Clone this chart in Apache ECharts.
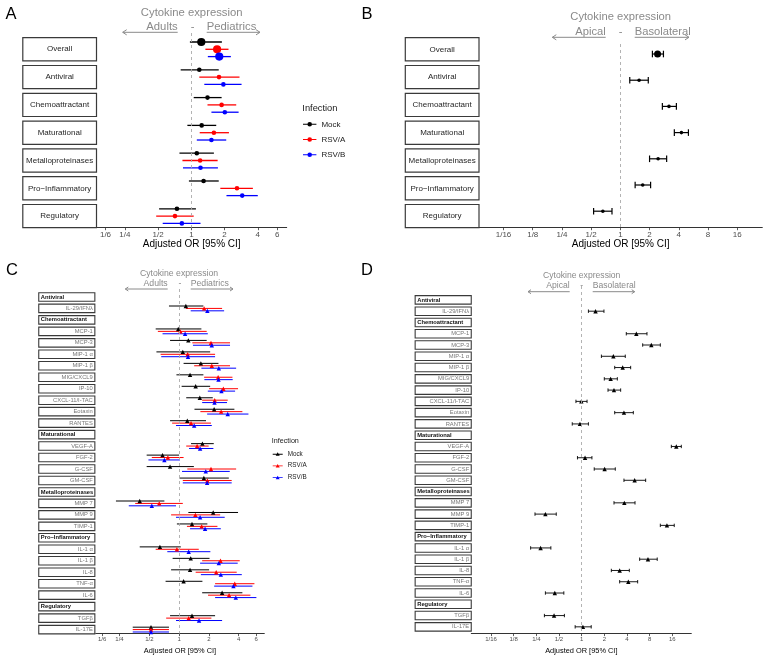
<!DOCTYPE html>
<html><head><meta charset="utf-8">
<script src="https://cdn.jsdelivr.net/npm/echarts@6/dist/echarts.min.js"></script>
<style>html,body{margin:0;padding:0;background:#fff}#c{width:768px;height:659px}</style>
</head><body><div id="c"></div>
<script>
// ---------- DATA ----------
const groupsAB = ['Overall','Antiviral','Chemoattractant','Maturational','Metalloproteinases','Pro\u2212Inflammatory','Regulatory'];
const ticksAC = ['1/6','1/4','1/2','1','2','4','6'];
const ticksBD = ['1/16','1/8','1/4','1/2','1','2','4','8','16'];

// Panel A (Adults vs Pediatrics), OR and 95% CI
const mockA_or = [1.23,1.18,1.40,1.24,1.12,1.29,0.74];
const mockA_lo = [0.97,0.80,1.05,0.92,0.78,0.95,0.51];
const mockA_hi = [1.89,1.77,1.88,1.68,1.60,1.77,1.10];
const rsvaA_or = [1.71,1.78,1.88,1.60,1.20,2.59,0.71];
const rsvaA_lo = [1.34,1.18,1.40,1.19,0.83,1.83,0.48];
const rsvaA_hi = [2.17,2.73,2.55,2.19,1.73,3.61,1.05];
const rsvbA_or = [1.79,1.95,2.01,1.52,1.21,2.89,0.82];
const rsvbA_lo = [1.41,1.31,1.52,1.12,0.84,2.08,0.55];
const rsvbA_hi = [2.28,2.85,2.68,2.07,1.74,4.00,1.21];

// Panel B (Apical vs Basolateral)
const basoB_or = [2.42,1.56,3.17,4.26,2.45,1.70,0.66];
const basoB_lo = [2.14,1.25,2.71,3.60,2.00,1.42,0.53];
const basoB_hi = [2.78,1.94,3.78,5.03,3.00,2.05,0.82];

// Panels C / D rows
const rowsCD = ['Antiviral','IL-29/IFN\u03bb','Chemoattractant','MCP-1','MCP-3','MIP-1 \u03b1','MIP-1 \u03b2','MIG/CXCL9','IP-10','CXCL-11/I-TAC','Eotaxin','RANTES','Maturational','VEGF-A','FGF-2','G-CSF','GM-CSF','Metalloproteinases','MMP 7','MMP 9','TIMP-1','Pro\u2212Inflammatory','IL-1 \u03b1','IL-1 \u03b2','IL-8','TNF-\u03b1','IL-6','Regulatory','TGF\u03b2','IL-17E'];
const headersCD = ['Antiviral','Chemoattractant','Maturational','Metalloproteinases','Pro\u2212Inflammatory','Regulatory'];

const mockC_or = [null,1.17,null,0.98,1.24,1.09,1.66,1.29,1.47,1.62,2.26,1.21,null,1.72,0.68,0.81,1.78,null,0.40,2.21,1.35,null,0.64,1.31,1.29,1.11,2.72,null,1.35,0.52];
const mockC_lo = [null,0.79,null,0.58,0.81,0.59,1.11,0.94,1.06,1.18,1.43,0.81,null,1.32,0.47,0.47,1.01,null,0.23,1.24,0.95,null,0.40,0.86,0.83,0.73,1.71,null,0.81,0.34];
const mockC_hi = [null,1.76,null,1.68,1.90,2.06,2.50,1.76,2.06,2.19,3.62,1.87,null,2.24,1.00,1.41,3.18,null,0.71,3.94,1.93,null,1.04,2.03,2.01,1.72,4.36,null,2.31,0.79];
const rsvaC_or = [null,1.79,null,1.03,2.10,1.22,2.14,2.48,2.80,2.29,2.66,1.32,null,1.52,0.77,2.10,1.93,null,0.63,1.46,1.69,null,0.95,2.62,2.37,3.65,3.20,null,1.25,0.52];
const rsvaC_lo = [null,1.17,null,0.61,1.36,0.65,1.42,1.79,2.01,1.71,1.64,0.85,null,1.18,0.53,1.21,1.09,null,0.36,0.83,1.20,null,0.58,1.71,1.47,2.31,1.96,null,0.74,0.34];
const rsvaC_hi = [null,2.72,null,1.90,3.27,2.31,3.27,3.46,3.94,3.10,4.36,2.10,null,1.99,1.11,3.77,3.40,null,1.09,2.60,2.44,null,1.58,4.10,3.82,5.77,5.26,null,2.12,0.79];
const rsvbC_or = [null,1.93,null,1.15,2.14,1.23,2.52,2.50,2.68,2.28,3.10,1.42,null,1.63,0.71,1.86,1.92,null,0.53,1.63,1.83,null,1.25,2.52,2.64,3.54,3.74,null,1.59,0.52];
const rsvbC_lo = [null,1.31,null,0.68,1.38,0.66,1.68,1.80,1.95,1.71,1.92,0.93,null,1.26,0.49,1.07,1.09,null,0.31,0.93,1.29,null,0.76,1.63,1.66,2.26,2.31,null,0.93,0.34];
const rsvbC_hi = [null,2.85,null,1.95,3.27,2.31,3.77,3.48,3.68,3.05,5.02,2.14,null,2.22,1.02,3.25,3.40,null,0.93,2.89,2.64,null,2.07,3.91,4.30,5.51,6.04,null,2.72,0.79];

const basoD_or = [null,1.53,null,5.33,8.43,2.64,3.51,2.43,2.69,0.99,3.65,0.95,null,18.1,1.11,2.02,5.06,null,3.69,0.33,13.6,null,0.285,7.61,3.20,4.17,0.44,null,0.43,1.04];
const basoD_lo = [null,1.23,null,3.92,6.47,1.83,2.75,2.00,2.24,0.84,2.75,0.75,null,15.55,0.88,1.47,3.65,null,2.69,0.24,11.1,null,0.21,5.90,2.48,3.20,0.33,null,0.32,0.82];
const basoD_hi = [null,1.98,null,7.38,11.1,3.80,4.48,2.98,3.30,1.18,4.86,1.23,null,21.1,1.37,2.80,7.09,null,5.12,0.46,17.0,null,0.39,10.1,4.30,5.55,0.58,null,0.59,1.34];

const infections = ['Mock','RSV/A','RSV/B'];

// ---------- HELPERS ----------
const FONT = '"Liberation Sans", Arial, sans-serif';
const log2 = Math.log2;
const tickVal = s => s.indexOf('/') >= 0 ? 1 / Number(s.split('/')[1]) : Number(s);
const tickLogs = arr => arr.map(s => log2(tickVal(s)));
function tickFormatter(arr) {
  const lv = tickLogs(arr);
  return v => { for (let i = 0; i < lv.length; i++) if (Math.abs(lv[i] - v) < 1e-6) return arr[i]; return ''; };
}
function errData(or, lo, hi, off) {
  const out = [];
  or.forEach((v, i) => { if (v == null) return; out.push([log2(v), i + off, log2(lo[i]), log2(hi[i])]); });
  return out;
}
function ptData(or, off) {
  const out = [];
  or.forEach((v, i) => { if (v == null) return; out.push([log2(v), i + off]); });
  return out;
}
function makeErr(cap, lw) {
  return function (params, api) {
    const y = api.value(1);
    const a = api.coord([api.value(2), y]);
    const b = api.coord([api.value(3), y]);
    const color = api.visual('color');
    const st = { stroke: color, lineWidth: lw };
    const ch = [{ type: 'line', shape: { x1: a[0], y1: a[1], x2: b[0], y2: b[1] }, style: st }];
    if (cap) {
      ch.push({ type: 'line', shape: { x1: a[0], y1: a[1] - cap, x2: a[0], y2: a[1] + cap }, style: st });
      ch.push({ type: 'line', shape: { x1: b[0], y1: b[1] - cap, x2: b[0], y2: b[1] + cap }, style: st });
    }
    return { type: 'group', children: ch };
  };
}
function xAxisCfg(gi, min, max, ticks, fs, nfs, nameGap, margin) {
  const tl = tickLogs(ticks);
  return {
    gridIndex: gi, type: 'value', min: min, max: max,
    axisLine: { show: true, onZero: false, lineStyle: { color: '#333', width: 1 } },
    axisTick: { show: true, customValues: tl, length: 2.5, lineStyle: { color: '#333', width: 0.8 } },
    axisLabel: { customValues: tl, formatter: tickFormatter(ticks), fontSize: fs, color: '#4d4d4d', margin: margin, fontFamily: FONT },
    splitLine: { show: false },
    name: 'Adjusted OR [95% CI]', nameLocation: 'middle', nameGap: nameGap,
    nameTextStyle: { fontSize: nfs, color: '#000', fontFamily: FONT }
  };
}
function yLabelAxisAB(gi, min, max, margin) {
  return {
    gridIndex: gi, type: 'value', inverse: true, min: min, max: max,
    axisLine: { show: false }, axisTick: { show: false }, splitLine: { show: false },
    axisLabel: {
      show: true, customValues: groupsAB.map((g, i) => i),
      formatter: v => '{c|' + groupsAB[Math.round(v)] + '}',
      align: 'right', margin: margin, width: 72.5, height: 22, padding: 0, lineHeight: 22,
      borderColor: '#3a3a3a', borderWidth: 1.2, backgroundColor: '#fff',
      rich: { c: { align: 'center', verticalAlign: 'middle', lineHeight: 22, height: 22, fontSize: 8, color: '#262626', fontFamily: FONT } }
    }
  };
}
function yLabelAxisCD(gi, min, max, margin) {
  return {
    gridIndex: gi, type: 'value', inverse: true, min: min, max: max,
    axisLine: { show: false }, axisTick: { show: false }, splitLine: { show: false },
    axisLabel: {
      show: true, customValues: rowsCD.map((g, i) => i),
      formatter: v => { const n = rowsCD[Math.round(v)]; return headersCD.indexOf(n) >= 0 ? '{h|' + n + '}' : '{i|' + n + '}'; },
      align: 'right', margin: margin, width: 52, height: 7.4, padding: [0, 1.5], lineHeight: 7.4,
      borderColor: '#3a3a3a', borderWidth: 1.1, backgroundColor: '#fff',
      rich: {
        h: { align: 'left', lineHeight: 7.4, fontSize: 5.8, fontWeight: 'bold', color: '#111', fontFamily: FONT },
        i: { align: 'right', lineHeight: 7.4, fontSize: 5.8, color: '#777', fontFamily: FONT }
      }
    }
  };
}
const dashed = { silent: true, symbol: ['none', 'none'], label: { show: false },
  lineStyle: { type: [3, 3], color: '#aaa', width: 0.9 }, data: [{ xAxis: 0 }] };

// ---------- SERIES ----------
const series = [];
const colors = ['#000000', '#ff0000', '#0000ff'];
const setA = [[mockA_or, mockA_lo, mockA_hi], [rsvaA_or, rsvaA_lo, rsvaA_hi], [rsvbA_or, rsvbA_lo, rsvbA_hi]];
const setC = [[mockC_or, mockC_lo, mockC_hi], [rsvaC_or, rsvaC_lo, rsvaC_hi], [rsvbC_or, rsvbC_lo, rsvbC_hi]];
const offA = [-0.263, 0, 0.263];
const offC = [-0.21, 0, 0.21];

infections.forEach((nm, k) => {
  const d = setA[k];
  series.push({ type: 'custom', name: nm, xAxisIndex: 0, yAxisIndex: 0, silent: true, z: 2,
    itemStyle: { color: colors[k] }, renderItem: makeErr(0, 1.3), encode: { x: 0, y: 1 },
    data: errData(d[0], d[1], d[2], offA[k]) });
  series.push({ type: 'scatter', name: nm, xAxisIndex: 0, yAxisIndex: 0, silent: true, z: 3,
    symbol: 'circle', symbolSize: (v, p) => p.dataIndex === 0 ? 8.2 : 4.6,
    itemStyle: { color: colors[k], opacity: 1 }, data: ptData(d[0], offA[k]),
    markLine: k === 0 ? dashed : undefined });
});
// B
series.push({ type: 'custom', name: 'Basolateral', xAxisIndex: 1, yAxisIndex: 2, silent: true, z: 2,
  itemStyle: { color: '#000' }, renderItem: makeErr(3.3, 1.2), encode: { x: 0, y: 1 },
  data: errData(basoB_or, basoB_lo, basoB_hi, 0) });
series.push({ type: 'scatter', name: 'Basolateral', xAxisIndex: 1, yAxisIndex: 2, silent: true, z: 3,
  symbol: 'circle', symbolSize: (v, p) => p.dataIndex === 0 ? 7 : 3.6,
  itemStyle: { color: '#000', opacity: 1 }, data: ptData(basoB_or, 0), markLine: dashed });
// C
infections.forEach((nm, k) => {
  const d = setC[k];
  series.push({ type: 'custom', name: nm, xAxisIndex: 2, yAxisIndex: 3, silent: true, z: 2,
    itemStyle: { color: colors[k] }, renderItem: makeErr(0, 1), encode: { x: 0, y: 1 },
    data: errData(d[0], d[1], d[2], offC[k]) });
  series.push({ type: 'scatter', name: nm, xAxisIndex: 2, yAxisIndex: 3, silent: true, z: 3,
    symbol: 'triangle', symbolSize: 4.4,
    itemStyle: { color: colors[k], opacity: 1 }, data: ptData(d[0], offC[k]),
    markLine: k === 0 ? dashed : undefined });
});
// D
series.push({ type: 'custom', name: 'BasolateralD', xAxisIndex: 3, yAxisIndex: 4, silent: true, z: 2,
  itemStyle: { color: '#000' }, renderItem: makeErr(1.7, 0.9), encode: { x: 0, y: 1 },
  data: errData(basoD_or, basoD_lo, basoD_hi, 0) });
series.push({ type: 'scatter', name: 'BasolateralD', xAxisIndex: 3, yAxisIndex: 4, silent: true, z: 3,
  symbol: 'triangle', symbolSize: 4.4,
  itemStyle: { color: '#000', opacity: 1 }, data: ptData(basoD_or, 0), markLine: dashed });

// ---------- ANNOTATIONS ----------
const GRAY = '#8a8a8a';
function txt(t, x, y, fs, align, color, weight) {
  return { type: 'text', x: x, y: y, silent: true,
    style: { text: t, fill: color || GRAY, fontSize: fs, fontFamily: FONT, fontWeight: weight || 'normal', align: align || 'center', verticalAlign: 'middle' } };
}
function arrow(x1, x2, y, hl, hw) {
  const dir = x2 < x1 ? 1 : -1;
  return [
    { type: 'polyline', silent: true, shape: { points: [[x1, y], [x2, y]] }, style: { stroke: GRAY, lineWidth: 1, fill: null } },
    { type: 'polyline', silent: true, shape: { points: [[x2 + dir * hl, y - hw], [x2, y], [x2 + dir * hl, y + hw]] }, style: { stroke: GRAY, lineWidth: 1, fill: null } }
  ];
}
function annot(a) {
  return [
    txt('Cytokine expression', a.cx, a.y1, a.fs),
    txt(a.lw, a.le, a.y2, a.fs, 'right'),
    txt('-', a.dx, a.y2, a.fs),
    txt(a.rw, a.rs, a.y2, a.fs, 'left')
  ].concat(arrow(a.le, a.la, a.y3, a.hl, a.hw), arrow(a.rs, a.ra, a.y3, a.hl, a.hw));
}
const graphics = [].concat(
  annot({ cx: 191.7, y1: 13.3, y2: 26.7, y3: 32.3, fs: 11.3, lw: 'Adults', rw: 'Pediatrics', le: 177.7, dx: 192.7, rs: 206.7, la: 122.7, ra: 260, hl: 4, hw: 2.6 }),
  annot({ cx: 620.7, y1: 17.3, y2: 31.7, y3: 37.3, fs: 11.2, lw: 'Apical', rw: 'Basolateral', le: 605.7, dx: 620.7, rs: 634.7, la: 552.3, ra: 689, hl: 4, hw: 2.6 }),
  annot({ cx: 179, y1: 273.3, y2: 283.7, y3: 289, fs: 8.7, lw: 'Adults', rw: 'Pediatrics', le: 167.7, dx: 180, rs: 190.7, la: 125.3, ra: 233, hl: 3, hw: 2 }),
  annot({ cx: 581.7, y1: 276, y2: 286, y3: 291.7, fs: 8.6, lw: 'Apical', rw: 'Basolateral', le: 569.7, dx: 581.7, rs: 592.7, la: 528, ra: 634.7, hl: 3, hw: 2 }),
  [
    txt('A', 11, 14, 16.5, 'center', '#000'),
    txt('B', 367, 14, 16.5, 'center', '#000'),
    txt('C', 12, 270, 16.5, 'center', '#000'),
    txt('D', 367, 270, 16.5, 'center', '#000'),
    txt('Infection', 302.3, 108.3, 9.3, 'left', '#1a1a1a'),
    txt('Infection', 271.7, 441, 7.2, 'left', '#1a1a1a')
  ]
);

const iconA = 'path://M0,5.4L14,5.4L14,6.6L0,6.6Z M4.6,6A2.4,2.4,0,1,1,9.4,6A2.4,2.4,0,1,1,4.6,6Z';
const iconC = 'path://M0,3.6L10,3.6L10,4.4L0,4.4Z M3,5.5L5,2L7,5.5Z';

const option = {
  animation: false,
  textStyle: { fontFamily: FONT },
  grid: [
    { left: 96.7, top: 33, width: 190, height: 194.7 },
    { left: 479, top: 44, width: 283.3, height: 183.7 },
    { left: 95.7, top: 289, width: 168.6, height: 346.7 },
    { left: 471.3, top: 286, width: 220, height: 349.7 }
  ],
  xAxis: [
    xAxisCfg(0, -2.85, 2.87, ticksAC, 8, 10, 10, 3),
    xAxisCfg(1, -4.84, 4.86, ticksBD, 8, 10, 10, 3),
    xAxisCfg(2, -2.80, 2.86, ticksAC, 6, 7.4, 8.5, 2.5),
    xAxisCfg(3, -4.87, 4.84, ticksBD, 6, 7.4, 8.5, 2.5)
  ],
  yAxis: [
    yLabelAxisAB(0, -0.586, 6.417, 0.8),
    yLabelAxisAB(1, -0.191, 6.417, 0.6),
    { gridIndex: 1, type: 'value', inverse: true, min: -0.382, max: 6.63, show: false },
    yLabelAxisCD(2, -0.693, 29.35, 1.4),
    yLabelAxisCD(3, -1.235, 29.6, 0.6)
  ],
  legend: [
    { orient: 'vertical', left: 303, top: 120.3, padding: 0, itemWidth: 13.4, itemHeight: 8, itemGap: 7.2, symbolKeepAspect: true,
      textStyle: { fontSize: 8, color: '#1a1a1a', fontFamily: FONT }, itemStyle: { borderWidth: 0 },
      selectedMode: false,
      data: infections.map(n => ({ name: n, icon: iconA })) },
    { orient: 'vertical', left: 272.7, top: 451, padding: 0, itemWidth: 10, itemHeight: 6, itemGap: 5.7, symbolKeepAspect: true,
      textStyle: { fontSize: 6.3, color: '#1a1a1a', fontFamily: FONT }, itemStyle: { borderWidth: 0 },
      selectedMode: false,
      data: infections.map(n => ({ name: n, icon: iconC })) }
  ],
  graphic: graphics,
  series: series
};
echarts.init(document.getElementById('c'), null, { renderer: 'canvas' }).setOption(option);
</script></body></html>
